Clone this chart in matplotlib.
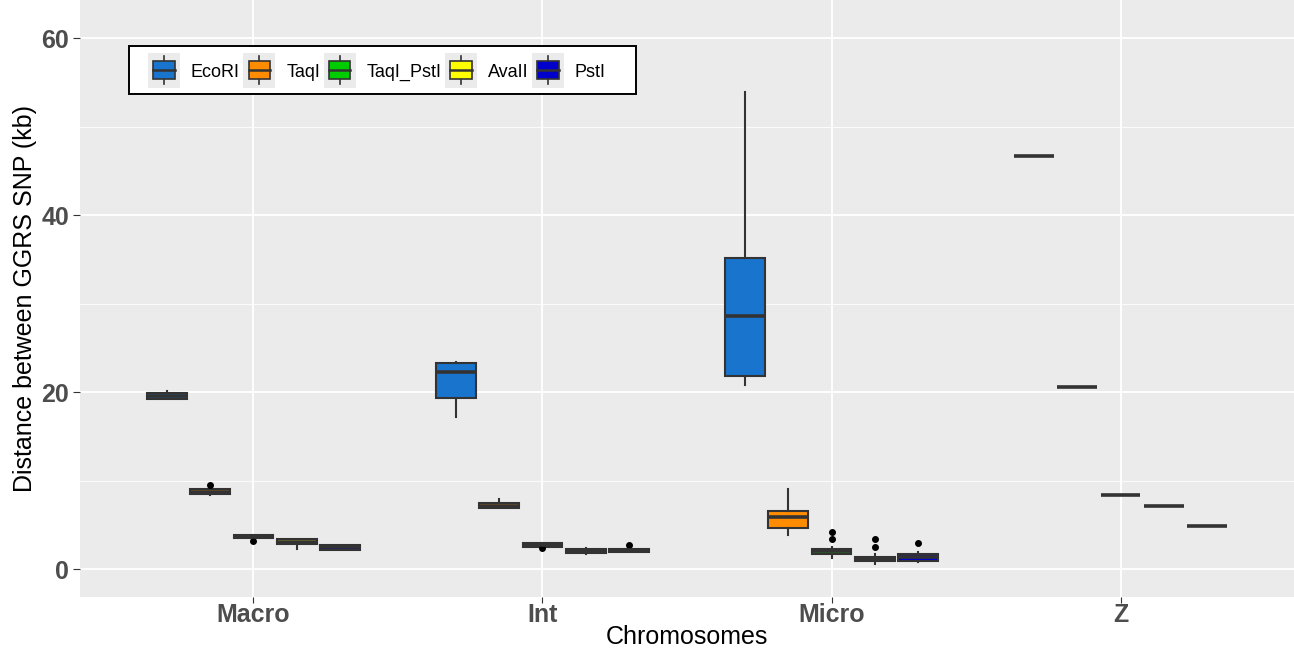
import numpy as np
import matplotlib.pyplot as plt
from matplotlib.patches import Rectangle
from matplotlib.lines import Line2D
from matplotlib.legend_handler import HandlerBase

plt.rcParams['font.family'] = ['Liberation Sans', 'DejaVu Sans']

# categories and enzymes
chroms = ["Macro", "Int", "Micro", "Z"]
enzymes = ["EcoRI", "TaqI", "TaqI_PstI", "AvaII", "PstI"]
colors = ["#1874CD", "#FF8C00", "#00CD00", "#FFFF00", "#0000CD"]

# box statistics per enzyme, one entry per chromosome group
# [whislo, q1, med, q3, whishi]
ecori = [[19.2, 19.2, 19.5, 19.9, 20.1],
         [17.2, 19.3, 22.3, 23.3, 23.4],
         [20.8, 21.8, 28.6, 35.1, 53.9],
         [46.7, 46.7, 46.7, 46.7, 46.7]]
taqi = [[8.4, 8.5, 8.7, 9.0, 9.0],
        [6.9, 6.9, 7.1, 7.5, 7.9],
        [3.8, 4.6, 5.9, 6.55, 9.0],
        [20.6, 20.6, 20.6, 20.6, 20.6]]
taqi_psti = [[3.5, 3.5, 3.6, 3.8, 3.8],
             [2.5, 2.5, 2.7, 2.95, 2.95],
             [1.3, 1.7, 2.0, 2.25, 2.5],
             [8.36, 8.36, 8.36, 8.36, 8.36]]
avaii = [[2.3, 2.8, 3.1, 3.45, 3.45],
         [1.7, 1.8, 2.0, 2.25, 2.4],
         [0.6, 0.9, 1.15, 1.4, 1.7],
         [7.12, 7.12, 7.12, 7.12, 7.12]]
psti = [[2.2, 2.2, 2.45, 2.7, 2.7],
        [1.95, 1.95, 2.1, 2.3, 2.3],
        [0.8, 0.95, 1.4, 1.7, 1.95],
        [4.82, 4.82, 4.82, 4.82, 4.82]]

outliers = {
    ("TaqI", 0): [9.5],
    ("TaqI_PstI", 0): [3.2],
    ("TaqI_PstI", 1): [2.35],
    ("PstI", 1): [2.7],
    ("TaqI_PstI", 2): [4.2, 3.4],
    ("AvaII", 2): [3.35, 2.45],
    ("PstI", 2): [2.95],
}

all_stats = [ecori, taqi, taqi_psti, avaii, psti]


class BoxHandler(HandlerBase):
    # legend key drawn as a small boxplot on a grey square
    def create_artists(self, legend, orig_handle, xd, yd, width, height, fontsize, trans):
        fc = orig_handle.get_facecolor()
        x0 = -xd
        cx = x0 + width / 2
        cy = 0.36 * fontsize
        bg = Rectangle((x0, cy - 0.97 * fontsize), width, 1.94 * fontsize,
                       facecolor="#EBEBEB", edgecolor="none", transform=trans)
        bw = 1.2 * fontsize
        bh = 1.0 * fontsize
        wl = Line2D([cx, cx], [cy - 0.8 * fontsize, cy + 0.8 * fontsize],
                    color="#333333", lw=1.2, transform=trans)
        box = Rectangle((cx - bw / 2, cy - bh / 2), bw, bh, facecolor=fc,
                        edgecolor="#333333", lw=1.2, transform=trans)
        med = Line2D([cx - bw / 2, cx + bw / 2], [cy, cy], color="#333333",
                     lw=1.8, transform=trans)
        return [bg, wl, box, med]


W, H = 1294, 653
fig = plt.figure(figsize=(W / 100, H / 100), dpi=100)
ax = fig.add_axes([80 / W, 56 / H, 1214 / W, 597 / H])
ax.set_facecolor("#EBEBEB")

step = 0.15
bw = 0.137
handles = []
for j, (name, col, stats) in enumerate(zip(enzymes, colors, all_stats)):
    bxp = []
    pos = []
    for i, s in enumerate(stats):
        bxp.append(dict(whislo=s[0], q1=s[1], med=s[2], q3=s[3], whishi=s[4],
                        fliers=outliers.get((name, i), [])))
        pos.append(i + (j - 2) * step)
    ax.bxp(bxp, positions=pos, widths=bw, patch_artist=True, showcaps=False,
           boxprops=dict(facecolor=col, edgecolor="#333333", lw=1.5),
           medianprops=dict(color="#333333", lw=2.6, solid_capstyle="butt"),
           whiskerprops=dict(color="#333333", lw=1.5),
           flierprops=dict(marker="o", markerfacecolor="black", markeredgecolor="black",
                           markersize=4),
           zorder=3)
    handles.append(Rectangle((0, 0), 1, 1, facecolor=col, label=name))

ax.set_xlim(-0.6, 3.6)
ax.set_ylim(-3.16, 64.3)
ax.set_xticks(range(len(chroms)))
ax.set_xticklabels(chroms, fontsize=18, fontweight="bold", color="#4D4D4D")
ax.set_yticks([0, 20, 40, 60])
ax.set_yticks([10, 30, 50], minor=True)
ax.tick_params(axis="y", which="major", labelsize=18, labelcolor="#4D4D4D",
               length=5, color="#333333", pad=3)
ax.tick_params(axis="y", which="minor", length=0)
ax.tick_params(axis="x", length=4, color="#333333", pad=0)
for lab in ax.get_yticklabels():
    lab.set_fontweight("bold")
ax.grid(which="major", color="white", lw=1.3)
ax.grid(which="minor", axis="y", color="white", lw=0.6)
ax.set_axisbelow(True)
for sp in ax.spines.values():
    sp.set_visible(False)

ax.set_xlabel("Chromosomes", fontsize=18, color="black", labelpad=-1)
ax.set_ylabel("Distance between GGRS SNP (kb)", fontsize=18, color="black", labelpad=3)

# legend frame drawn as its own rectangle (wider side padding than top/bottom)
frame = Rectangle((129 / W, 1 - 94 / H), (636 - 129) / W, (94 - 46) / H,
                  transform=fig.transFigure, facecolor="white", edgecolor="black",
                  lw=1.4, zorder=4)
fig.patches.append(frame)

leg = fig.legend(handles=handles, loc="upper left",
                 bbox_to_anchor=(148 / W, 1 - 59 / H),
                 ncol=5, fontsize=13, handler_map={Rectangle: BoxHandler()},
                 handlelength=1.77, handleheight=1.6, handletextpad=0.6,
                 columnspacing=0.2, frameon=False, borderpad=0, borderaxespad=0)
leg.set_zorder(5)

fig.savefig("out.png", dpi=100)
